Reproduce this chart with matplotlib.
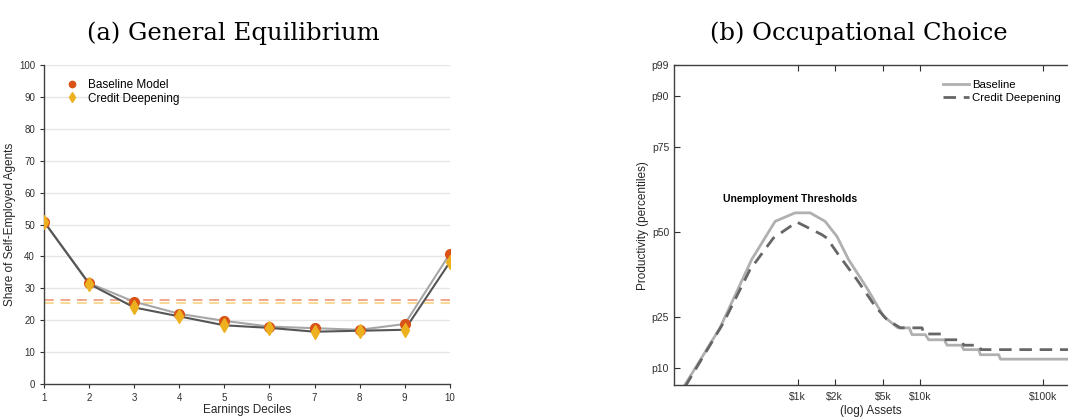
import matplotlib
matplotlib.use("Agg")
import matplotlib.pyplot as plt
import numpy as np

plt.rcParams['font.family'] = ['Liberation Sans', 'DejaVu Sans']

# (a) General Equilibrium
deciles = [1, 2, 3, 4, 5, 6, 7, 8, 9, 10]
baseline_share = [50.9, 31.6, 25.8, 22.0, 19.8, 18.0, 17.5, 17.0, 18.8, 40.8]
credit_share = [50.9, 31.4, 24.0, 21.2, 18.4, 17.6, 16.4, 16.7, 17.0, 38.2]
baseline_mean = 26.3
credit_mean = 25.3

# (b) Occupational Choice, log10 assets vs productivity percentile
base_log = [2.07, 2.365, 2.624, 2.815, 2.978, 3.101, 3.223, 3.319, 3.414, 3.564, 3.70,
            3.817, 3.910, 3.932, 4.041, 4.068, 4.196, 4.218, 4.335, 4.354, 4.477,
            4.490, 4.640, 4.654, 5.4]
base_pct = [4.5, 21.8, 41.9, 53.1, 55.6, 55.6, 53.1, 48.7, 41.9, 33.5, 25.2,
            21.8, 21.8, 19.8, 19.8, 18.3, 18.3, 16.7, 16.7, 15.4, 15.4,
            13.9, 13.9, 12.6, 12.6]
credit_log = [2.08, 2.392, 2.610, 2.801, 2.992, 3.196, 3.237, 3.332, 3.482, 3.632, 3.728,
              3.837, 4.014, 4.030, 4.177, 4.196, 4.335, 4.354, 4.477, 4.495, 5.4]
credit_pct = [4.5, 23.2, 38.9, 48.2, 52.9, 49.2, 48.2, 43.3, 36.0, 28.1, 24.2,
              21.8, 21.8, 20.0, 20.0, 18.3, 18.3, 16.7, 16.7, 15.4, 15.4]
pct_ticks = [10, 25, 50, 75, 90, 99]
pct_labels = ['p10', 'p25', 'p50', 'p75', 'p90', 'p99']
asset_ticks = [1000, 2000, 5000, 10000, 100000]
asset_labels = ['$1k', '$2k', '$5k', '$10k', '$100k']

red = '#D95319'
yellow = '#EDB120'
spine_col = '#404040'

fig = plt.figure(figsize=(10.68, 4.17), dpi=100)

# ---- left panel
ax1 = fig.add_axes([0.0412, 0.0791, 0.380, 0.765])
for v in range(10, 101, 10):
    ax1.axhline(v, color='#E6E6E6', lw=1.0, zorder=0)
ax1.axhline(baseline_mean, color='#F2A78A', lw=1.4, dashes=(5, 3.5), zorder=1)
ax1.axhline(credit_mean, color='#F6D993', lw=1.4, dashes=(5, 3.5), zorder=1)
ax1.plot(deciles, baseline_share, color='#A6A6A6', lw=1.5, zorder=2)
ax1.plot(deciles, credit_share, color='#555555', lw=1.5, zorder=2)
ax1.plot(deciles, baseline_share, 'o', color=red, ms=7, mec=red, ls='none',
         zorder=3, label='Baseline Model')
ax1.plot(deciles, credit_share, 'd', color=yellow, ms=7.5, mec=yellow, ls='none',
         zorder=4, label='Credit Deepening')
ax1.set_xlim(1, 10)
ax1.set_ylim(0, 100)
ax1.set_xticks(deciles)
ax1.set_yticks(range(0, 101, 10))
ax1.tick_params(labelsize=7, colors='#303030', length=3, width=0.8)
for s in ['top', 'right']:
    ax1.spines[s].set_visible(False)
for s in ['left', 'bottom']:
    ax1.spines[s].set_color(spine_col)
    ax1.spines[s].set_linewidth(1.0)
ax1.set_xlabel('Earnings Deciles', fontsize=8.5, labelpad=1, color='#262626')
ax1.set_ylabel('Share of Self-Employed Agents', fontsize=8.5, labelpad=2, color='#262626')
ax1.legend(loc='upper left', bbox_to_anchor=(0.02, 0.99), frameon=False,
           fontsize=8.5, markerscale=0.65, handlelength=1.5, handletextpad=0.6,
           labelspacing=0.15)

# ---- right panel
ax2 = fig.add_axes([0.631, 0.0767, 0.3695, 0.767])
ax2.plot(10 ** np.array(base_log), base_pct, color='#B0B0B0', lw=2.0,
         label='Baseline')
ax2.plot(10 ** np.array(credit_log), credit_pct, color='#666666', lw=2.0,
         dashes=(4.5, 2.8), label='Credit Deepening')
ax2.set_xscale('log')
ax2.set_xlim(97.5, 162000)
ax2.set_ylim(5, 99)
ax2.set_xticks(asset_ticks)
ax2.set_xticklabels(asset_labels)
ax2.minorticks_off()
ax2.set_yticks(pct_ticks)
ax2.set_yticklabels(pct_labels)
ax2.tick_params(axis='x', which='both', direction='in', top=True, length=4,
                labelsize=7.5, colors='#303030', width=0.8, pad=5)
ax2.tick_params(axis='y', direction='in', length=4, labelsize=7.5,
                colors='#303030', width=0.8)
ax2.spines['right'].set_visible(False)
for s in ['left', 'bottom', 'top']:
    ax2.spines[s].set_color(spine_col)
    ax2.spines[s].set_linewidth(1.0)
ax2.set_xlabel('(log) Assets', fontsize=8.5, labelpad=2, color='#262626')
ax2.set_ylabel('Productivity (percentiles)', fontsize=8.5, labelpad=2, color='#262626')
ax2.text(10 ** 2.94, 59.7, 'Unemployment Thresholds', fontsize=7.5,
         fontweight='bold', ha='center', va='center')
ax2.legend(loc='upper left', bbox_to_anchor=(0.655, 0.985), frameon=False,
           fontsize=8.2, handlelength=2.3, handletextpad=0.3, labelspacing=0.25)

fig.text(0.218, 0.92, '(a) General Equilibrium', family='DejaVu Serif',
         fontsize=17.5, ha='center', va='center')
fig.text(0.804, 0.92, '(b) Occupational Choice', family='DejaVu Serif',
         fontsize=17.5, ha='center', va='center')

fig.savefig('out.png', dpi=100)
